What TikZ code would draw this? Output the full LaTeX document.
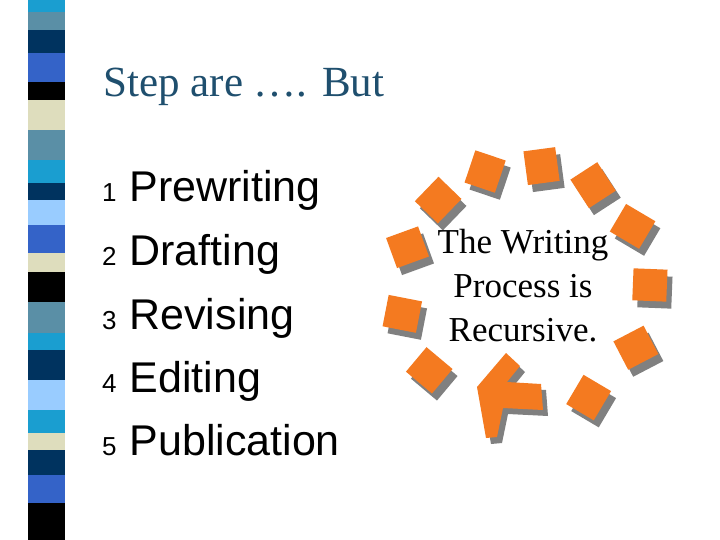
\documentclass[tikz,border=0pt]{standalone}
\usepackage{fontspec}
\setmainfont{Liberation Serif}
\newfontfamily\arial{Liberation Sans}
\definecolor{cy}{HTML}{1A9ED0}
\definecolor{st}{HTML}{5A8FA6}
\definecolor{nv}{HTML}{00335F}
\definecolor{rb}{HTML}{3463C8}
\definecolor{bg}{HTML}{DEDDBD}
\definecolor{lb}{HTML}{99CCFF}
\definecolor{ttl}{HTML}{1F4F6E}
\definecolor{org}{HTML}{F47A20}
\definecolor{shd}{HTML}{808080}
\begin{document}
\begin{tikzpicture}[x=1pt,y=-1pt,
  item/.style={anchor=base west,font=\arial\fontsize{43}{46}\selectfont},
  num/.style={anchor=base east,font=\arial\fontsize{26}{28}\selectfont},
  seg/.style={minimum width=34,minimum height=32,inner sep=0}]
\useasboundingbox (0,0) rectangle (720,540);
\fill[white] (0,0) rectangle (720,540);
\foreach \a/\b/\c in {0/12/cy,12/30/st,30/53/nv,53/82/rb,82/100/black,100/130/bg,130/160/st,160/183/cy,183/200/nv,200/225/lb,225/253/rb,253/272/bg,272/302/black,302/333/st,333/350/cy,350/380/nv,380/410/lb,410/433/cy,433/450/bg,450/475/nv,475/503/rb,503/540/black}
  \fill[\c] (28,\a) rectangle (65,\b);
\node[anchor=base west,text=ttl,font=\fontsize{43}{46}\selectfont] (title) at (100,97) {Step are …. But};
\foreach \n/\t/\y in {1/Prewriting/202,2/Drafting/265,3/Revising/329,4/Editing/392,5/Publication/455}{
  \node[num] (n\n) at (120,\y) {\n};
  \node[item] (i\n) at (126,\y) {\t};
}
% circle of segments
\foreach \ang [count=\k] in {108.6,82.4,57,30.6,2.3,-27.5,-59.4,-140,-169,160,134}{
  \pgfmathsetmacro\px{525+125*cos(\ang)}
  \pgfmathsetmacro\py{290-125*sin(\ang)}
  \node[seg,fill=shd,rotate=-\ang] (s\k) at (\px+5,\py+7) {};
  \node[seg,fill=org,rotate=-\ang] (o\k) at (\px,\py) {};
}
\begin{scope}[shift={(5,6)}]
\fill[shd] (477,387)--(506,353)--(520,366)--(507,382)--(541,384)--(543,410)--(503,408)--(497,437)--(486,438)--cycle;
\end{scope}
\fill[org] (477,387)--(506,353)--(520,366)--(507,382)--(541,384)--(543,410)--(503,408)--(497,437)--(486,438)--cycle;
\node[align=center,font=\fontsize{35}{44}\selectfont] (txt) at (523,286) {The Writing\\Process is\\Recursive.};
\end{tikzpicture}
\end{document}
